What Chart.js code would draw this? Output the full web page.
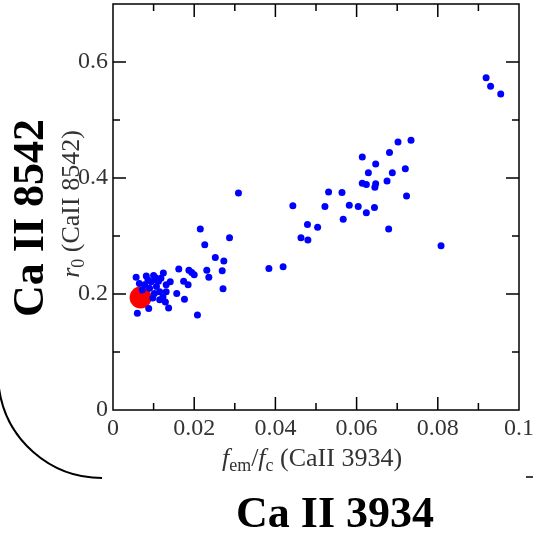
<!DOCTYPE html>
<html>
<head>
<meta charset="utf-8">
<script src="https://cdn.jsdelivr.net/npm/chart.js@4.4.1/dist/chart.umd.min.js"></script>
<style>
  html, body { margin: 0; padding: 0; background: #fff; }
</style>
</head>
<body>
<canvas id="chart" width="533" height="533"></canvas>
<script>
// f_em/f_c (CaII 3934) vs r0 (CaII 8542)
const starsX = [
  0.0919, 0.0930, 0.0955, 0.0734, 0.0702, 0.0614, 0.0681, 0.0647, 0.0629, 0.0688,
  0.0720, 0.0614, 0.0624, 0.0647, 0.0645, 0.0675, 0.0531, 0.0564, 0.0443, 0.0522,
  0.0582, 0.0604, 0.0644, 0.0624, 0.0723, 0.0567, 0.0479, 0.0504, 0.0679, 0.0463,
  0.0480, 0.0808, 0.0384, 0.0419, 0.0309, 0.0215, 0.0226, 0.0287, 0.0252, 0.0273,
  0.0162, 0.0187, 0.0194, 0.0200, 0.0231, 0.0236, 0.0269, 0.0271, 0.0208, 0.0174,
  0.0185, 0.0176, 0.0157, 0.0137, 0.0124, 0.0141, 0.0131, 0.0129, 0.0060, 0.0088,
  0.0057, 0.0082, 0.0100, 0.0118, 0.0065, 0.0078, 0.0094, 0.0107, 0.0115, 0.0102,
  0.0123, 0.0115, 0.0098, 0.0090, 0.0131, 0.0086, 0.0108, 0.0072, 0.0112, 0.0105
];
const starsY = [
  0.573, 0.558, 0.545, 0.465, 0.462, 0.436, 0.444, 0.424, 0.409, 0.409,
  0.416, 0.391, 0.389, 0.390, 0.384, 0.395, 0.376, 0.375, 0.352, 0.351,
  0.353, 0.351, 0.349, 0.340, 0.369, 0.329, 0.320, 0.315, 0.312, 0.297,
  0.293, 0.283, 0.244, 0.247, 0.374, 0.312, 0.285, 0.297, 0.263, 0.257,
  0.243, 0.241, 0.237, 0.233, 0.241, 0.229, 0.240, 0.209, 0.164, 0.222,
  0.216, 0.191, 0.201, 0.176, 0.236, 0.221, 0.204, 0.186, 0.167, 0.175,
  0.229, 0.231, 0.232, 0.227, 0.218, 0.216, 0.221, 0.213, 0.204, 0.201,
  0.195, 0.190, 0.193, 0.210, 0.216, 0.224, 0.224, 0.207, 0.222, 0.228
];
const sunX = [0.0068];
const sunY = [0.194];

const xTickLabels = ["0", "0.02", "0.04", "0.06", "0.08", "0.1"];
const yTickLabels = ["0", "0.2", "0.4", "0.6"];

const serif = "'Liberation Serif', 'Times New Roman', serif";
const tickColor = "#333";

function toPoints(xs, ys) {
  return xs.map((x, i) => ({ x, y: ys[i] }));
}

function isMajorX(v) { return Math.round(v * 100) % 2 === 0; }
function isMajorY(v) { return Math.round(v * 10) % 2 === 0; }

function noPadding(s) {
  s.paddingTop = 0; s.paddingBottom = 0;
  s.paddingLeft = 0; s.paddingRight = 0;
}

const framePlugin = {
  id: "frame",
  afterDatasetsDraw(chart) {
    const ctx = chart.ctx;
    const a = chart.chartArea;
    const xs = chart.scales.x;
    const ys = chart.scales.y;
    ctx.save();
    ctx.strokeStyle = "#000";
    ctx.lineWidth = 1.5;
    ctx.strokeRect(a.left, a.top, a.right - a.left, a.bottom - a.top);
    ctx.beginPath();
    xs.ticks.forEach((t) => {
      const px = xs.getPixelForValue(t.value);
      if (px <= a.left + 1 || px >= a.right - 1) return;
      const len = isMajorX(t.value) ? 13 : 7;
      ctx.moveTo(px, a.bottom); ctx.lineTo(px, a.bottom - len);
      ctx.moveTo(px, a.top); ctx.lineTo(px, a.top + len);
    });
    ys.ticks.forEach((t) => {
      const py = ys.getPixelForValue(t.value);
      if (py <= a.top + 1 || py >= a.bottom - 1) return;
      const len = isMajorY(t.value) ? 13 : 7;
      ctx.moveTo(a.left, py); ctx.lineTo(a.left + len, py);
      ctx.moveTo(a.right, py); ctx.lineTo(a.right - len, py);
    });
    ctx.stroke();
    ctx.restore();
  },
  afterDraw(chart) {
    const ctx = chart.ctx;
    ctx.save();
    ctx.fillStyle = tickColor;
    ctx.textBaseline = "alphabetic";

    // x title: f_em/f_c (CaII 3934)
    const xParts = [
      { t: "f", f: "italic 26px " + serif, dy: 0 },
      { t: "em", f: "18px " + serif, dy: 5 },
      { t: "/", f: "26px " + serif, dy: 0 },
      { t: "f", f: "italic 26px " + serif, dy: 0 },
      { t: "c", f: "18px " + serif, dy: 5 },
      { t: " (CaII 3934)", f: "26px " + serif, dy: 0 },
    ];
    drawParts(ctx, xParts, 312, 466);

    // y title: r0 (CaII 8542), rotated
    ctx.save();
    ctx.translate(79, 204);
    ctx.rotate(-Math.PI / 2);
    const yParts = [
      { t: "r", f: "italic 26px " + serif, dy: 0 },
      { t: "0", f: "18px " + serif, dy: 5 },
      { t: " (CaII 8542)", f: "26px " + serif, dy: 0 },
    ];
    drawParts(ctx, yParts, 0, 0);
    ctx.restore();

    // big labels
    ctx.fillStyle = "#000";
    ctx.font = "bold 44px " + serif;
    ctx.textAlign = "center";
    ctx.fillText("Ca II 3934", 335, 527);
    ctx.save();
    ctx.translate(43, 218);
    ctx.rotate(-Math.PI / 2);
    ctx.fillText("Ca II 8542", 0, 0);
    ctx.restore();

    // arc and dash
    ctx.strokeStyle = "#000";
    ctx.lineWidth = 2;
    ctx.beginPath();
    ctx.arc(102, 374, 104, Math.PI * 0.96, Math.PI * 0.5, true);
    ctx.stroke();
    ctx.lineWidth = 1.5;
    ctx.beginPath();
    ctx.moveTo(526, 477); ctx.lineTo(533, 477);
    ctx.stroke();
    ctx.restore();
  },
};

function drawParts(ctx, parts, cx, baseY) {
  let total = 0;
  parts.forEach((p) => { ctx.font = p.f; total += ctx.measureText(p.t).width; });
  let x = cx - total / 2;
  ctx.textAlign = "left";
  parts.forEach((p) => {
    ctx.font = p.f;
    ctx.fillText(p.t, x, baseY + p.dy);
    x += ctx.measureText(p.t).width;
  });
}

new Chart(document.getElementById("chart"), {
  type: "scatter",
  data: {
    datasets: [
      {
        data: toPoints(starsX, starsY),
        backgroundColor: "#0000ff",
        borderWidth: 0,
        pointRadius: 3.5,
      },
      {
        data: toPoints(sunX, sunY),
        backgroundColor: "#ff0000",
        borderWidth: 0,
        pointRadius: 11,
      },
    ],
  },
  options: {
    responsive: false,
    animation: false,
    devicePixelRatio: 1,
    layout: { autoPadding: false, padding: { top: 4, right: 14, left: 0, bottom: 0 } },
    plugins: { legend: { display: false }, tooltip: { enabled: false } },
    scales: {
      x: {
        type: "linear",
        min: 0,
        max: 0.1,
        border: { display: false },
        grid: { display: false, drawTicks: false },
        ticks: {
          stepSize: 0.01,
          padding: 4,
          maxRotation: 0,
          autoSkip: false,
          color: tickColor,
          font: { family: serif, size: 24 },
          callback: (v) => (isMajorX(v) ? xTickLabels[Math.round(v * 50)] : ""),
        },
        afterFit: (s) => { s.height = 123; noPadding(s); },
      },
      y: {
        type: "linear",
        min: 0,
        max: 0.7,
        border: { display: false },
        grid: { display: false, drawTicks: false },
        ticks: {
          stepSize: 0.1,
          padding: 5,
          autoSkip: false,
          color: tickColor,
          font: { family: serif, size: 24 },
          callback: (v) => (isMajorY(v) ? yTickLabels[Math.round(v * 5)] : ""),
        },
        afterFit: (s) => { s.width = 113; noPadding(s); },
      },
    },
  },
  plugins: [framePlugin],
});
</script>
</body>
</html>
